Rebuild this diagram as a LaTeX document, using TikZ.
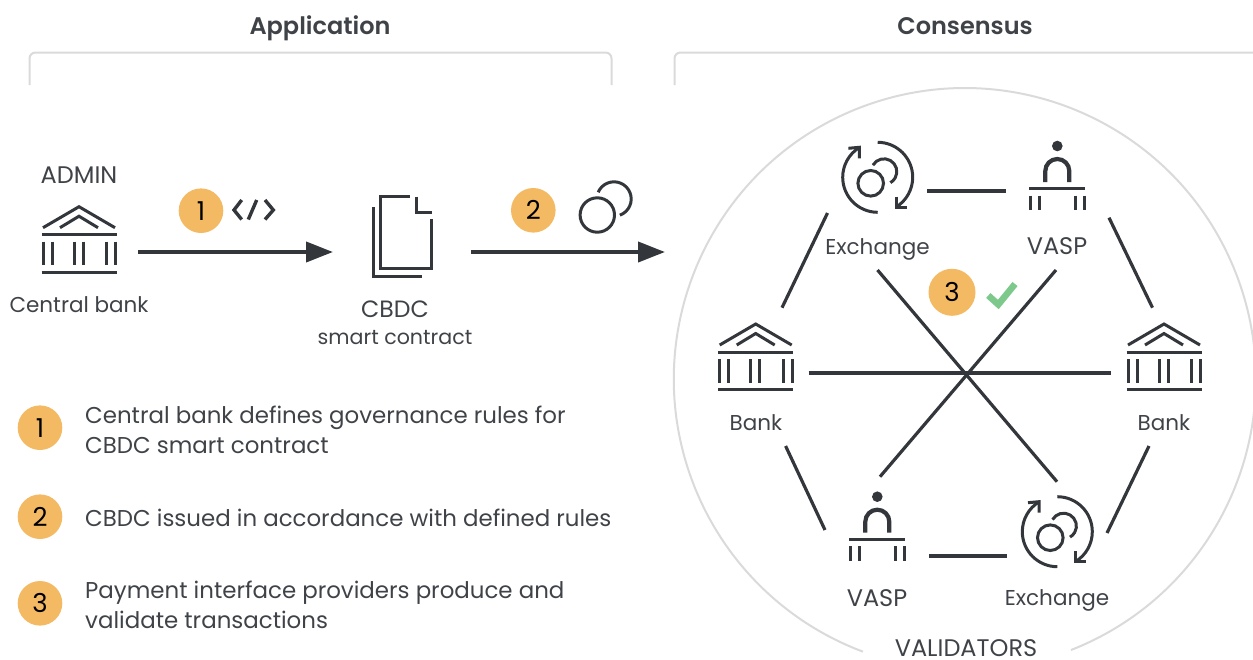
\documentclass[tikz,border=0pt]{standalone}
\usepackage{fontspec}
\setmainfont[BoldFont={Poppins SemiBold}]{Poppins}
\usetikzlibrary{arrows.meta}
\definecolor{ink}{HTML}{33373C}
\definecolor{wording}{HTML}{3F4348}
\definecolor{pale}{HTML}{DADADA}
\definecolor{amber}{HTML}{F3BA63}
\definecolor{tick}{HTML}{7CC98B}
\begin{document}
\begin{tikzpicture}[
		x=1pt,y=1pt,
		caption/.style={text=wording,inner sep=0pt,align=center,font=\fontsize{21.5}{29}\selectfont},
		capsword/.style={caption,font=\fontsize{24}{30}\selectfont},
		heading/.style={text=wording,inner sep=0pt,anchor=base,font=\fontsize{24}{30}\selectfont\bfseries},
		note/.style={caption,anchor=west,align=left,font=\fontsize{22.9}{30.5}\selectfont},
		badge/.style={circle,fill=amber,text=black,inner sep=0pt,minimum size=44.6pt,font=\fontsize{26}{30}\selectfont},
		link/.style={draw=ink,line width=3.2pt},
		rung/.style={draw=ink,line width=4pt},
		flow/.style={draw=ink,line width=4pt,-{Triangle[length=27pt,width=20pt]}},
		glyph/.style={draw=ink,line width=3pt},
		bracket/.style={draw=pale,line width=2pt,rounded corners=6pt},
		bankicon/.pic={
				\draw[glyph] (-36,-21) -- (0,0) -- (36,-21);
				\draw[glyph] (-19,-21) -- (0,-9.5) -- (19,-21);
				\draw[glyph] (-37.5,-28) -- (37.5,-28);
				\draw[glyph] (-37.5,-65.5) -- (37.5,-65.5);
				\foreach \postx in {-36,-27,-5,4,27.5,36.5}
				\draw[glyph] (\postx,-35) -- (\postx,-58.5);
			},
		vaspicon/.pic={
				\fill[ink] (0,0) circle (5.3);
				\draw[glyph,line width=4.2pt] (-12,-36) -- (-12,-25) arc[start angle=180,end angle=0,radius=12] -- (12,-36);
				\draw[glyph,line width=3.4pt] (-28,-42.7) -- (28,-42.7);
				\foreach \legx in {-27,-18,18,27}
				\draw[glyph] (\legx,-49.7) -- (\legx,-64);
			},
		exchangeicon/.pic={
				\draw[glyph] (0,35) arc[start angle=90,end angle=-58,radius=35];
				\draw[glyph] (0,-35) arc[start angle=270,end angle=122,radius=35];
				\draw[glyph] (-29.3,29) -- (-18.3,30) -- (-18.3,19);
				\draw[glyph] (18.3,-19.3) -- (18.3,-30) -- (29,-30);
				\draw[glyph] (-7,-6) circle (12.8);
				\draw[glyph] (6.3,5.7) ++(150:12.8) arc[start angle=150,end angle=-60,radius=12.8];
			}
	]
	\useasboundingbox (0,0) rectangle (1253,-659);
	\node[heading] (appHead) at (320,-34.5) {Application};
	\node[heading] (consHead) at (965,-34.5) {Consensus};
	\draw[bracket] (29.5,-85) -- (29.5,-52.5) -- (611.5,-52.5) -- (611.5,-85);
	\draw[bracket] (674.5,-85) -- (674.5,-52.5) -- (1270,-52.5);
	\draw[draw=pale,line width=2pt] (1071,-650) arc[start angle=-68.6,end angle=249.5,radius=291];

	\node[capsword] (adminText) at (79,-175) {ADMIN};
	\pic at (79,-206.7) {bankicon};
	\node[caption] (centralText) at (79,-305) {Central bank};
	\node[badge] (stepOne) at (201,-210.7) {1};
	\draw[glyph,line width=3.4pt] (241.7,-200) -- (234,-210) -- (241.7,-219.5);
	\draw[glyph,line width=3.4pt] (256.7,-200) -- (248.3,-219.5);
	\draw[glyph,line width=3.4pt] (265,-200) -- (273.3,-210) -- (265,-219.5);
	\coordinate (adminOut) at (138,-252);
	\coordinate (cbdcIn) at (333,-252);
	\draw[flow] (adminOut) -- (cbdcIn);

	\draw[glyph] (410,-196.7) -- (380.7,-196.7) -- (380.7,-268.3) -- (431.5,-268.3) -- (431.5,-219.3);
	\draw[glyph] (416,-196.7) -- (416,-212.7) -- (431.7,-212.7);
	\draw[glyph] (373.3,-207.3) -- (373.3,-276.7) -- (422.3,-276.7);
	\node[caption,font=\fontsize{20.6}{27}\selectfont] (cbdcText) at (395,-322.5) {{\fontsize{23.6}{27}\selectfont CBDC}\\smart contract};

	\node[badge] (stepTwo) at (533.3,-210.3) {2};
	\draw[glyph] (597.3,-215) circle (17.2);
	\draw[glyph] (614,-199) ++(157:17.2) arc[start angle=157,end angle=-70,radius=17.2];
	\coordinate (cbdcOut) at (471,-252);
	\coordinate (ringIn) at (665,-252);
	\draw[flow] (cbdcOut) -- (ringIn);

	\node[badge] (noteOne) at (40,-427.7) {1};
	\node[note] (noteOneText) at (85,-430) {Central bank defines governance rules for\\CBDC smart contract};
	\node[badge] (noteTwo) at (40,-516.7) {2};
	\node[note] (noteTwoText) at (85,-518) {CBDC issued in accordance with defined rules};
	\node[badge] (noteThree) at (40,-603.3) {3};
	\node[note] (noteThreeText) at (85,-605) {Payment interface providers produce and\\validate transactions};

	\pic at (877.7,-177.3) {exchangeicon};
	\node[caption] (exTop) at (877.5,-249) {Exchange};
	\pic at (1057.3,-146) {vaspicon};
	\node[capsword] (vaspTop) at (1057,-246) {VASP};
	\pic at (755.7,-324) {bankicon};
	\node[caption] (bankLeft) at (756,-423) {Bank};
	\pic at (1164,-324) {bankicon};
	\node[caption] (bankRight) at (1164,-423) {Bank};
	\pic at (877.3,-496.7) {vaspicon};
	\node[capsword] (vaspLow) at (877,-598) {VASP};
	\pic at (1057.3,-531.7) {exchangeicon};
	\node[caption] (exLow) at (1057,-600) {Exchange};
	\node[capsword] (ringText) at (966,-648) {VALIDATORS};

	\coordinate (exTopE) at (927,-190.7);
	\coordinate (vaspTopW) at (1006,-190.7);
	\coordinate (vaspLowE) at (929,-555.7);
	\coordinate (exLowW) at (1007,-555.7);
	\coordinate (bankLeftE) at (808.6,-373);
	\coordinate (bankRightW) at (1111,-373);
	\coordinate (exTopS) at (877.5,-270);
	\coordinate (exLowN) at (1057,-481.7);
	\coordinate (vaspTopS) at (1056,-270);
	\coordinate (vaspLowN) at (880,-476.7);
	\coordinate (exTopSW) at (827.5,-213);
	\coordinate (bankLeftN) at (782,-307.7);
	\coordinate (vaspTopSE) at (1109,-217.7);
	\coordinate (bankRightN) at (1152.5,-307.7);
	\coordinate (bankLeftS) at (785.6,-446);
	\coordinate (vaspLowNW) at (825,-530);
	\coordinate (bankRightS) at (1149,-446);
	\coordinate (exLowNE) at (1107,-533);
	\draw[rung] (exTopE) -- (vaspTopW);
	\draw[rung] (vaspLowE) -- (exLowW);
	\draw[rung] (bankLeftE) -- (bankRightW);
	\draw[link] (exTopS) -- (exLowN);
	\draw[link] (vaspTopS) -- (vaspLowN);
	\draw[link] (exTopSW) -- (bankLeftN);
	\draw[link] (vaspTopSE) -- (bankRightN);
	\draw[link] (bankLeftS) -- (vaspLowNW);
	\draw[link] (bankRightS) -- (exLowNE);

	\node[badge,minimum size=47pt] (stepThree) at (952,-292.3) {3};
	\draw[draw=tick,line width=6.5pt] (988.3,-295.5) -- (998.3,-304.5) -- (1015,-284);
\end{tikzpicture}
\end{document}
